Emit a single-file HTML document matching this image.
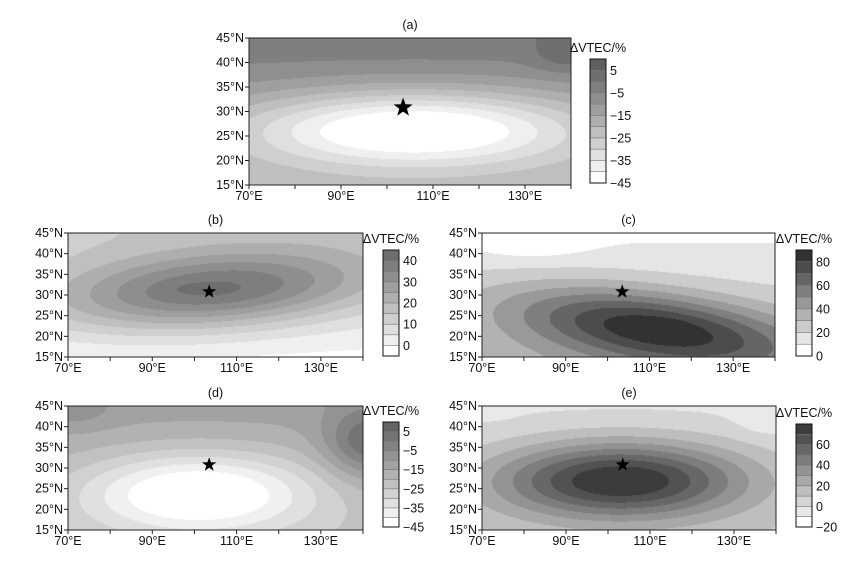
<!DOCTYPE html>
<html><head><meta charset="utf-8">
<style>
body{margin:0;background:#fff;width:868px;height:561px;overflow:hidden;position:relative;font-family:"Liberation Sans",Arial,sans-serif}
canvas{position:absolute}
svg{position:absolute;left:0;top:0}
</style></head>
<body>
<div id="root"></div>
<script>
// ---- data ----
const panelLabels = ['(a)','(b)','(c)','(d)','(e)'];
const lonTicks = [70,80,90,100,110,120,130,140];
const lonLabels = [70,90,110,130];
const latTicks = [15,20,25,30,35,40,45];
const starLon = [103.5,103.5,103.5,103.5,103.5];
const starLat = [30.8,30.8,30.8,30.8,30.8];
// colorbar level ranges (min, max, step)
const levA = [-45,10,5], levB = [-5,45,5], levC = [0,90,10], levD = [-45,10,5], levE = [-20,80,10];
const cbTicksA = [5,-5,-15,-25,-35,-45];
const cbTicksB = [40,30,20,10,0];
const cbTicksC = [80,60,40,20,0];
const cbTicksD = [5,-5,-15,-25,-35,-45];
const cbTicksE = [60,40,20,0,-20];
// background: [value at 30N, gradient per deg lat]
const bgA = [-10,0.6], bgB = [6,0.5], bgC = [20,-0.8], bgD = [-17,0.3], bgE = [2,-0.3];
// blobs: [lon, lat, sigmaLon, sigmaLat, amplitude, rotationDeg]
const blobsA = [[106,26.5,27,5.5,-37,0],[139,41.5,5,2.5,7,0]];
const blobsB = [[104,31,27,6.5,34,4],[102,31.5,4,0.8,4,0]];
const blobsC = [[111,22,24,6,62,-8],[112,22.5,4,1,6,0],[82,43,9,3,-10,0]];
const blobsD = [[101,24,20,7,-30,0],[141,36,7,6,20,0],[72,44,6,3,6,0]];
const blobsE = [[103,27,21,6.5,78,0],[72,45,4,2,-6,0],[138,42,5,3,-8,0]];

const panels = [
 {x0:249,x1:571,y0:38,y1:185,cb:[590,59,16,124],lev:levA,cbt:cbTicksA,bg:bgA,bl:blobsA,dark:95,star:20},
 {x0:68,x1:363,y0:233,y1:357,cb:[383,250,16,106],lev:levB,cbt:cbTicksB,bg:bgB,bl:blobsB,dark:110,star:15},
 {x0:482,x1:775,y0:233,y1:357,cb:[796,250,16,106],lev:levC,cbt:cbTicksC,bg:bgC,bl:blobsC,dark:50,star:15},
 {x0:68,x1:363,y0:406,y1:530,cb:[383,422,16,105],lev:levD,cbt:cbTicksD,bg:bgD,bl:blobsD,dark:100,star:15},
 {x0:482,x1:776,y0:406,y1:530,cb:[796,424,16,103],lev:levE,cbt:cbTicksE,bg:bgE,bl:blobsE,dark:60,star:15}
];
const NS='http://www.w3.org/2000/svg';
const root=document.getElementById('root');
const svg=document.createElementNS(NS,'svg');
svg.setAttribute('width',868);svg.setAttribute('height',561);


function field(p,lon,lat){
  let v=p.bg[0]+p.bg[1]*(lat-30);
  for(const b of p.bl){
    const r=b[5]*Math.PI/180;
    const dx=lon-b[0], dy=lat-b[1];
    const u=dx*Math.cos(r)+dy*Math.sin(r), w=-dx*Math.sin(r)+dy*Math.cos(r);
    v+=b[4]*Math.exp(-0.5*((u/b[2])**2+(w/b[3])**2));
  }
  return v;
}
function bandColor(p,i,n){
  const g=Math.round(255-(255-p.dark)*i/(n-1));
  return [g,g,g];
}
function el(tag,attrs,name,txt){
  const e=document.createElementNS(NS,tag);
  for(const k in attrs)e.setAttribute(k,attrs[k]);
  
  
  if(txt!==undefined)e.textContent=txt;
  svg.appendChild(e);return e;
}
function starPath(cx,cy,R){
  const r=R*0.4;let d='';
  for(let i=0;i<10;i++){const a=-Math.PI/2+i*Math.PI/5;const rr=i%2?r:R;
    d+=(i?'L':'M')+(cx+rr*Math.cos(a)).toFixed(1)+','+(cy+rr*Math.sin(a)).toFixed(1);}
  return d+'Z';
}
panels.forEach((p,k)=>{
  const W=p.x1-p.x0,H=p.y1-p.y0;
  const [lmin,lmax,st]=p.lev; const n=Math.round((lmax-lmin)/st);
  const lx=lon=>p.x0+(lon-70)/70*W, ly=lat=>p.y1-(lat-15)/30*H;
  const c=document.createElement('canvas');
  c.width=W;c.height=H;c.style.left=p.x0+'px';c.style.top=p.y0+'px';
  
  
  const ctx=c.getContext('2d');const img=ctx.createImageData(W,H);
  for(let y=0;y<H;y++)for(let x=0;x<W;x++){
    const lon=70+(x+0.5)/W*70, lat=45-(y+0.5)/H*30;
    let i=Math.floor((field(p,lon,lat)-lmin)/st);i=Math.max(0,Math.min(n-1,i));
    const col=bandColor(p,i,n);const o=(y*W+x)*4;
    img.data[o]=col[0];img.data[o+1]=col[1];img.data[o+2]=col[2];img.data[o+3]=255;
  }
  ctx.putImageData(img,0,0);root.appendChild(c);
  el('rect',{x:p.x0,y:p.y0,width:W,height:H,fill:'none',stroke:'#222','stroke-width':1},'plot-frame');
  el('text',{x:(p.x0+p.x1)/2,y:p.y0-9,'font-size':12.5,'text-anchor':'middle',fill:'#111'},'panel-title',panelLabels[k]);
  lonTicks.forEach(t=>el('line',{x1:lx(t),x2:lx(t),y1:p.y1,y2:p.y1+4,stroke:'#222'},'x-tick'));
  lonLabels.forEach(t=>el('text',{x:lx(t),y:p.y1+15,'font-size':12.5,'text-anchor':'middle',fill:'#111'},'x-tick-label',t+'°E'));
  latTicks.forEach(t=>{el('line',{x1:p.x0-4,x2:p.x0,y1:ly(t),y2:ly(t),stroke:'#222'},'y-tick');
    el('text',{x:p.x0-5,y:ly(t)+4,'font-size':12.5,'text-anchor':'end',fill:'#111'},'y-tick-label',t+'°N');});
  el('path',{d:starPath(lx(starLon[k]),ly(starLat[k]),p.star/2),fill:'#000'},'epicenter-star');
  // colorbar
  const [cx,cy,cw,ch]=p.cb; const bh=ch/n;
  for(let i=0;i<n;i++){const g=bandColor(p,i,n)[0];
    el('rect',{x:cx,y:cy+ch-(i+1)*bh,width:cw,height:bh+0.3,fill:`rgb(${g},${g},${g})`},'colorbar-band');
    if(i>0)el('line',{x1:cx,x2:cx+cw,y1:cy+ch-i*bh,y2:cy+ch-i*bh,stroke:'#777','stroke-width':0.6},'colorbar-sep');}
  el('rect',{x:cx,y:cy,width:cw,height:ch,fill:'none',stroke:'#111'},'colorbar-frame');
  el('text',{x:cx+cw/2,y:cy-7,'font-size':12.5,'text-anchor':'middle',fill:'#111'},'colorbar-title','ΔVTEC/%');
  p.cbt.forEach(t=>{const yy=cy+ch-(t-lmin)/(lmax-lmin)*ch;
    el('text',{x:cx+cw+4,y:yy+4.5,'font-size':12.5,fill:'#111'},'colorbar-tick-label',t<0?'−'+(-t):String(t));});
});
root.appendChild(svg);
</script>
</body></html>
